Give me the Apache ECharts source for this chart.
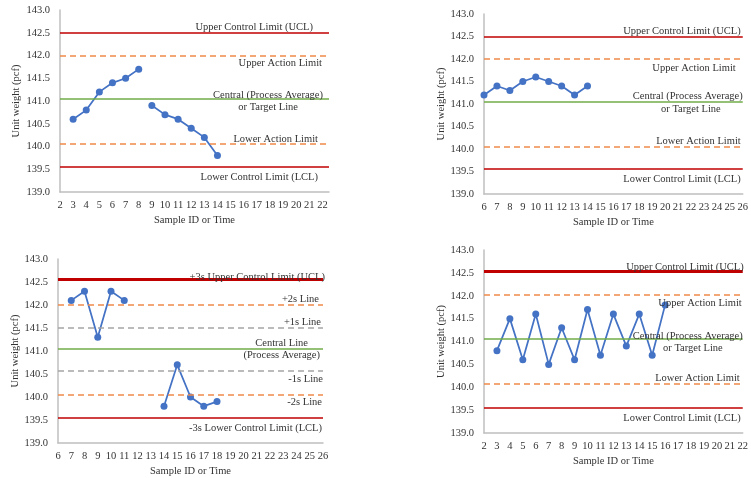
<!DOCTYPE html>
<html>
<head>
<meta charset="utf-8">
<script src="https://cdn.jsdelivr.net/npm/echarts@6/dist/echarts.min.js"></script>
<style>
  html, body { margin: 0; padding: 0; background: #fff; }
  #chart { width: 751px; height: 478px; }
</style>
</head>
<body>
<div id="chart"></div>
<script>
// panel 1 - trend up then trend down (two runs)
const p1SamplesA = [3, 4, 5, 6, 7, 8];
const p1WeightsA = [140.6, 140.8, 141.2, 141.4, 141.5, 141.7];
const p1SamplesB = [9, 10, 11, 12, 13, 14];
const p1WeightsB = [140.9, 140.7, 140.6, 140.4, 140.2, 139.8];
const p1Limits = [142.5, 142.0, 141.05, 140.05, 139.55];

// panel 2 - run above the central line
const p2Samples = [6, 7, 8, 9, 10, 11, 12, 13, 14];
const p2Weights = [141.2, 141.4, 141.3, 141.5, 141.6, 141.5, 141.4, 141.2, 141.4];
const p2Limits = [142.5, 142.0, 141.05, 140.05, 139.55];

// panel 3 - sigma lines
const p3SamplesA = [7, 8, 9, 10, 11];
const p3WeightsA = [142.1, 142.3, 141.3, 142.3, 142.1];
const p3SamplesB = [14, 15, 16, 17, 18];
const p3WeightsB = [139.8, 140.7, 140.0, 139.8, 139.9];
const p3Limits = [142.55, 142.0, 141.5, 141.05, 140.58, 140.05, 139.55];

// panel 4 - saw tooth
const p4Samples = [3, 4, 5, 6, 7, 8, 9, 10, 11, 12, 13, 14, 15, 16];
const p4Weights = [140.8, 141.5, 140.6, 141.6, 140.5, 141.3, 140.6, 141.7, 140.7, 141.6, 140.9, 141.6, 140.7, 141.8];
const p4Limits = [142.53, 142.02, 141.07, 140.07, 139.55];

const actionNames = ['Upper Control Limit (UCL)', 'Upper Action Limit', 'Central (Process Average)', 'Lower Action Limit', 'Lower Control Limit (LCL)'];
const sigmaNames = ['+3s Upper Control Limit (UCL)', '+2s Line', '+1s Line', 'Central Line', '-1s Line', '-2s Line', '-3s Lower Control Limit (LCL)'];
const actionNote = 'or Target Line';
const sigmaNote = '(Process Average)';

const font = '"Liberation Serif", "Times New Roman", serif';
const textColor = '#333333';

const lineKinds = {
  ucl: { color: '#C00000', width: 1.5, type: 'solid' },
  uclBold: { color: '#C00000', width: 3, type: 'solid' },
  action: { color: '#F08A4B', width: 1.5, type: [6, 4] },
  central: { color: '#70AD47', width: 1.5, type: 'solid' },
  sigma1: { color: '#A5A5A5', width: 1.5, type: [6, 4] },
  hidden: { color: 'rgba(0,0,0,0)', width: 1, type: 'solid' }
};

// label placement: [side, distance from line end, distance from line]
const panels = [
  {
    grid: { left: 60, top: 10, width: 269, height: 182 }, xMin: 2, xMax: 22.5, nameGapY: 38,
    runs: [[p1SamplesA, p1WeightsA], [p1SamplesB, p1WeightsB]],
    limits: p1Limits, names: actionNames,
    kinds: ['ucl', 'action', 'central', 'action', 'ucl'],
    place: [['t', 16, 0], ['b', 7, 2], ['t', 6, -2], ['t', 11, -1], ['b', 11, 5]],
    note: { idx: 2, text: actionNote, place: ['b', 31, 3] }
  },
  {
    grid: { left: 484, top: 14, width: 263, height: 180 }, xMin: 6, xMax: 26, nameGapY: 33,
    runs: [[p2Samples, p2Weights]],
    limits: p2Limits, names: actionNames,
    kinds: ['ucl', 'action', 'central', 'action', 'ucl'],
    place: [['t', 2, 0], ['b', 7, 4], ['t', 0, 0], ['t', 2, 0], ['b', 2, 4]],
    note: { idx: 2, text: actionNote, place: ['b', 22, 2] }
  },
  {
    grid: { left: 58, top: 259, width: 265, height: 184 }, xMin: 6, xMax: 26, nameGapY: 36,
    runs: [[p3SamplesA, p3WeightsA], [p3SamplesB, p3WeightsB]],
    limits: p3Limits, names: sigmaNames,
    kinds: ['uclBold', 'action', 'sigma1', 'central', 'sigma1', 'action', 'ucl'],
    place: [['t', -2, -3], ['t', 4, 0], ['t', 2, 0], ['t', 15, 0], ['b', 0, 3], ['b', 1, 2], ['b', 1, 5]],
    note: { idx: 3, text: sigmaNote, place: ['b', 3, 1] }
  },
  {
    grid: { left: 484, top: 250, width: 263, height: 183 }, xMin: 2, xMax: 22, nameGapY: 33,
    runs: [[p4Samples, p4Weights]],
    limits: p4Limits, names: actionNames,
    kinds: ['uclBold', 'action', 'central', 'action', 'ucl'],
    place: [['t', -1, -1], ['b', 1, 3], ['t', 0, -3], ['t', 3, 0], ['b', 2, 5]],
    note: { idx: 2, text: actionNote, place: ['b', 20, 4] }
  }
];

function markLabel(text, place) {
  return {
    show: true,
    formatter: text,
    position: place[0] === 't' ? 'insideEndTop' : 'insideEndBottom',
    distance: [place[1], place[2]],
    color: textColor,
    fontFamily: font,
    fontSize: 10.5
  };
}

const grid = [], xAxis = [], yAxis = [], series = [];
panels.forEach((p, i) => {
  grid.push(p.grid);
  xAxis.push({
    type: 'value', gridIndex: i, min: p.xMin, max: p.xMax, interval: 1,
    name: 'Sample ID or Time', nameLocation: 'middle', nameGap: 23,
    nameTextStyle: { color: textColor, fontFamily: font, fontSize: 10.5 },
    axisLine: { show: true, lineStyle: { color: '#BFBFBF', width: 1.5 } },
    axisTick: { show: false },
    splitLine: { show: false },
    axisLabel: { color: textColor, fontFamily: font, fontSize: 10.5, margin: 8, showMaxLabel: p.xMax % 1 === 0 }
  });
  yAxis.push({
    type: 'value', gridIndex: i, min: 139, max: 143, interval: 0.5,
    name: 'Unit weight (pcf)', nameLocation: 'middle', nameGap: p.nameGapY,
    nameTextStyle: { color: textColor, fontFamily: font, fontSize: 10.5 },
    axisLine: { show: true, lineStyle: { color: '#BFBFBF', width: 1.5 } },
    axisTick: { show: false },
    splitLine: { show: false },
    axisLabel: { color: textColor, fontFamily: font, fontSize: 10.5, margin: 10, formatter: v => v.toFixed(1) }
  });

  const marks = p.limits.map((v, k) => ({
    yAxis: v,
    lineStyle: lineKinds[p.kinds[k]],
    label: markLabel(p.names[k], p.place[k])
  }));
  marks.push({
    yAxis: p.limits[p.note.idx],
    lineStyle: lineKinds.hidden,
    label: markLabel(p.note.text, p.note.place)
  });
  series.push({
    type: 'line', xAxisIndex: i, yAxisIndex: i, data: [], z: 1,
    markLine: { silent: true, symbol: 'none', animation: false, data: marks }
  });

  p.runs.forEach(run => {
    series.push({
      type: 'line', xAxisIndex: i, yAxisIndex: i, z: 3,
      data: run[0].map((s, k) => [s, run[1][k]]),
      symbol: 'circle', symbolSize: 7,
      itemStyle: { color: '#4472C4' },
      lineStyle: { color: '#4472C4', width: 1.75 }
    });
  });
});

const myChart = echarts.init(document.getElementById('chart'));
myChart.setOption({
  animation: false,
  grid: grid,
  xAxis: xAxis,
  yAxis: yAxis,
  series: series
});
</script>
</body>
</html>
